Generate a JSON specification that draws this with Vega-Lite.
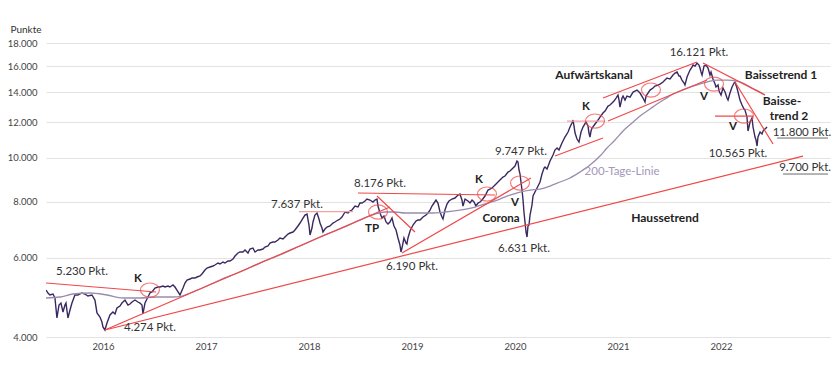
{
"$schema": "https://vega.github.io/schema/vega-lite/v6.json",
"width": 784, "height": 294,
"autosize": {"type": "none"},
"padding": {"left": 46, "top": 43, "right": 10, "bottom": 36},
"background": "white",
"config": {"view": {"stroke": null}, "font": "Lato"},
"datasets": {
"kurs": [
{"t":2015.447,"v":5087},{"t":2015.466,"v":5010},{"t":2015.485,"v":4959},{"t":2015.515,"v":4984},{"t":2015.534,"v":4883},{"t":2015.553,"v":4408},{"t":2015.573,"v":4711},{"t":2015.592,"v":4759},{"t":2015.612,"v":4546},{"t":2015.631,"v":4711},{"t":2015.641,"v":4759},{"t":2015.660,"v":4408},{"t":2015.680,"v":4592},{"t":2015.699,"v":4759},{"t":2015.728,"v":4959},{"t":2015.757,"v":4959},{"t":2015.796,"v":5010},{"t":2015.825,"v":4984},{"t":2015.854,"v":4933},{"t":2015.893,"v":4959},{"t":2015.922,"v":4833},{"t":2015.942,"v":4523},{"t":2015.971,"v":4430},{"t":2015.990,"v":4319},{"t":2016.000,"v":4210},{"t":2016.019,"v":4146},{"t":2016.039,"v":4297},{"t":2016.068,"v":4477},{"t":2016.097,"v":4546},{"t":2016.117,"v":4500},{"t":2016.136,"v":4639},{"t":2016.165,"v":4687},{"t":2016.184,"v":4759},{"t":2016.214,"v":4833},{"t":2016.243,"v":4711},{"t":2016.262,"v":4735},{"t":2016.282,"v":4784},{"t":2016.311,"v":4833},{"t":2016.340,"v":4784},{"t":2016.359,"v":4759},{"t":2016.379,"v":4711},{"t":2016.388,"v":4500},{"t":2016.408,"v":4759},{"t":2016.437,"v":4908},{"t":2016.456,"v":5010},{"t":2016.476,"v":5036},{"t":2016.505,"v":5139},{"t":2016.534,"v":5166},{"t":2016.553,"v":5166},{"t":2016.583,"v":5192},{"t":2016.602,"v":5166},{"t":2016.631,"v":5192},{"t":2016.650,"v":5166},{"t":2016.680,"v":5219},{"t":2016.699,"v":5166},{"t":2016.718,"v":5087},{"t":2016.748,"v":4959},{"t":2016.777,"v":5139},{"t":2016.796,"v":5273},{"t":2016.816,"v":5354},{"t":2016.845,"v":5381},{"t":2016.864,"v":5409},{"t":2016.893,"v":5409},{"t":2016.913,"v":5437},{"t":2016.942,"v":5465},{"t":2016.961,"v":5521},{"t":2016.990,"v":5635},{"t":2017.010,"v":5693},{"t":2017.039,"v":5722},{"t":2017.068,"v":5752},{"t":2017.087,"v":5781},{"t":2017.117,"v":5840},{"t":2017.136,"v":5811},{"t":2017.165,"v":5870},{"t":2017.184,"v":5840},{"t":2017.214,"v":5901},{"t":2017.233,"v":5901},{"t":2017.262,"v":5961},{"t":2017.282,"v":6054},{"t":2017.311,"v":6148},{"t":2017.330,"v":6179},{"t":2017.359,"v":6179},{"t":2017.379,"v":6242},{"t":2017.408,"v":6148},{"t":2017.427,"v":6274},{"t":2017.456,"v":6306},{"t":2017.476,"v":6179},{"t":2017.505,"v":6242},{"t":2017.524,"v":6242},{"t":2017.553,"v":6274},{"t":2017.573,"v":6339},{"t":2017.602,"v":6371},{"t":2017.621,"v":6470},{"t":2017.650,"v":6503},{"t":2017.670,"v":6503},{"t":2017.699,"v":6570},{"t":2017.718,"v":6638},{"t":2017.748,"v":6604},{"t":2017.767,"v":6672},{"t":2017.796,"v":6775},{"t":2017.816,"v":6809},{"t":2017.845,"v":6844},{"t":2017.864,"v":6915},{"t":2017.893,"v":7058},{"t":2017.913,"v":7167},{"t":2017.942,"v":7352},{"t":2017.961,"v":7466},{"t":2017.981,"v":7504},{"t":2018.000,"v":7094},{"t":2018.010,"v":6740},{"t":2018.029,"v":6986},{"t":2018.039,"v":7204},{"t":2018.058,"v":7466},{"t":2018.078,"v":7543},{"t":2018.097,"v":7314},{"t":2018.107,"v":7167},{"t":2018.126,"v":6986},{"t":2018.136,"v":6844},{"t":2018.155,"v":6950},{"t":2018.175,"v":7022},{"t":2018.204,"v":7058},{"t":2018.233,"v":7167},{"t":2018.252,"v":7204},{"t":2018.282,"v":7277},{"t":2018.301,"v":7314},{"t":2018.320,"v":7390},{"t":2018.350,"v":7582},{"t":2018.379,"v":7543},{"t":2018.398,"v":7621},{"t":2018.417,"v":7659},{"t":2018.447,"v":7818},{"t":2018.476,"v":7778},{"t":2018.495,"v":7939},{"t":2018.515,"v":7939},{"t":2018.544,"v":8020},{"t":2018.563,"v":8102},{"t":2018.592,"v":8061},{"t":2018.621,"v":7980},{"t":2018.641,"v":8061},{"t":2018.660,"v":8102},{"t":2018.670,"v":7818},{"t":2018.689,"v":7543},{"t":2018.709,"v":7352},{"t":2018.728,"v":7428},{"t":2018.748,"v":7204},{"t":2018.767,"v":7130},{"t":2018.786,"v":7204},{"t":2018.806,"v":7352},{"t":2018.825,"v":7058},{"t":2018.845,"v":6915},{"t":2018.864,"v":6638},{"t":2018.883,"v":6404},{"t":2018.893,"v":6179},{"t":2018.903,"v":6306},{"t":2018.922,"v":6638},{"t":2018.942,"v":6470},{"t":2018.951,"v":6437},{"t":2018.961,"v":6638},{"t":2018.981,"v":6880},{"t":2019.010,"v":7094},{"t":2019.039,"v":7241},{"t":2019.058,"v":7277},{"t":2019.078,"v":7277},{"t":2019.107,"v":7390},{"t":2019.136,"v":7466},{"t":2019.155,"v":7543},{"t":2019.175,"v":7659},{"t":2019.194,"v":7818},{"t":2019.214,"v":7939},{"t":2019.233,"v":8061},{"t":2019.252,"v":7939},{"t":2019.272,"v":7582},{"t":2019.291,"v":7390},{"t":2019.301,"v":7314},{"t":2019.320,"v":7659},{"t":2019.340,"v":7898},{"t":2019.359,"v":8020},{"t":2019.388,"v":8102},{"t":2019.417,"v":8144},{"t":2019.447,"v":8270},{"t":2019.466,"v":8312},{"t":2019.485,"v":8061},{"t":2019.495,"v":7818},{"t":2019.515,"v":8102},{"t":2019.544,"v":8020},{"t":2019.563,"v":7939},{"t":2019.583,"v":8061},{"t":2019.602,"v":7980},{"t":2019.621,"v":7818},{"t":2019.641,"v":7939},{"t":2019.660,"v":7980},{"t":2019.680,"v":8061},{"t":2019.709,"v":8228},{"t":2019.738,"v":8484},{"t":2019.757,"v":8528},{"t":2019.777,"v":8571},{"t":2019.806,"v":8704},{"t":2019.835,"v":8839},{"t":2019.854,"v":8929},{"t":2019.883,"v":9067},{"t":2019.903,"v":9114},{"t":2019.932,"v":9303},{"t":2019.951,"v":9350},{"t":2019.971,"v":9446},{"t":2020.000,"v":9593},{"t":2020.019,"v":9841},{"t":2020.029,"v":9791},{"t":2020.039,"v":9398},{"t":2020.049,"v":9208},{"t":2020.058,"v":8839},{"t":2020.068,"v":8484},{"t":2020.078,"v":8061},{"t":2020.087,"v":7582},{"t":2020.097,"v":7204},{"t":2020.107,"v":6844},{"t":2020.117,"v":6672},{"t":2020.126,"v":7058},{"t":2020.136,"v":7094},{"t":2020.146,"v":7466},{"t":2020.165,"v":7858},{"t":2020.175,"v":8228},{"t":2020.194,"v":8398},{"t":2020.214,"v":8571},{"t":2020.243,"v":8839},{"t":2020.262,"v":9208},{"t":2020.282,"v":9495},{"t":2020.291,"v":9544},{"t":2020.311,"v":9446},{"t":2020.340,"v":9841},{"t":2020.369,"v":10147},{"t":2020.388,"v":10410},{"t":2020.408,"v":10517},{"t":2020.427,"v":10410},{"t":2020.456,"v":10790},{"t":2020.485,"v":11126},{"t":2020.515,"v":11414},{"t":2020.534,"v":11710},{"t":2020.553,"v":11952},{"t":2020.563,"v":12137},{"t":2020.573,"v":11770},{"t":2020.583,"v":11356},{"t":2020.602,"v":11013},{"t":2020.621,"v":10845},{"t":2020.631,"v":11126},{"t":2020.641,"v":11414},{"t":2020.660,"v":11710},{"t":2020.689,"v":12013},{"t":2020.709,"v":11770},{"t":2020.718,"v":11356},{"t":2020.728,"v":11126},{"t":2020.738,"v":11473},{"t":2020.748,"v":11650},{"t":2020.777,"v":11891},{"t":2020.806,"v":12137},{"t":2020.825,"v":12324},{"t":2020.854,"v":12579},{"t":2020.874,"v":12709},{"t":2020.903,"v":13038},{"t":2020.922,"v":13105},{"t":2020.942,"v":13240},{"t":2020.961,"v":13376},{"t":2020.981,"v":13583},{"t":2021.000,"v":13793},{"t":2021.010,"v":13444},{"t":2021.019,"v":12971},{"t":2021.039,"v":13583},{"t":2021.049,"v":13722},{"t":2021.068,"v":13444},{"t":2021.087,"v":13722},{"t":2021.117,"v":13652},{"t":2021.146,"v":14006},{"t":2021.165,"v":14078},{"t":2021.184,"v":14149},{"t":2021.214,"v":13935},{"t":2021.243,"v":13583},{"t":2021.262,"v":13308},{"t":2021.272,"v":13722},{"t":2021.291,"v":13935},{"t":2021.311,"v":14149},{"t":2021.340,"v":14295},{"t":2021.359,"v":14442},{"t":2021.388,"v":14516},{"t":2021.408,"v":14590},{"t":2021.437,"v":14741},{"t":2021.456,"v":14892},{"t":2021.476,"v":15045},{"t":2021.505,"v":14969},{"t":2021.534,"v":15278},{"t":2021.553,"v":15435},{"t":2021.573,"v":15515},{"t":2021.592,"v":15200},{"t":2021.602,"v":15200},{"t":2021.621,"v":14892},{"t":2021.641,"v":14665},{"t":2021.650,"v":14516},{"t":2021.670,"v":15123},{"t":2021.699,"v":15673},{"t":2021.718,"v":15916},{"t":2021.728,"v":16080},{"t":2021.748,"v":15998},{"t":2021.767,"v":16246},{"t":2021.786,"v":16080},{"t":2021.796,"v":15835},{"t":2021.806,"v":15515},{"t":2021.816,"v":15278},{"t":2021.835,"v":15998},{"t":2021.854,"v":16080},{"t":2021.874,"v":15835},{"t":2021.893,"v":15278},{"t":2021.903,"v":15515},{"t":2021.922,"v":14969},{"t":2021.942,"v":14590},{"t":2021.951,"v":14368},{"t":2021.971,"v":14516},{"t":2021.981,"v":14078},{"t":2022.000,"v":13793},{"t":2022.019,"v":14295},{"t":2022.039,"v":14006},{"t":2022.058,"v":13583},{"t":2022.068,"v":13444},{"t":2022.087,"v":13935},{"t":2022.107,"v":14368},{"t":2022.126,"v":14665},{"t":2022.136,"v":14741},{"t":2022.155,"v":14295},{"t":2022.165,"v":14006},{"t":2022.184,"v":13444},{"t":2022.204,"v":13105},{"t":2022.223,"v":12839},{"t":2022.233,"v":12774},{"t":2022.252,"v":12324},{"t":2022.262,"v":11473},{"t":2022.282,"v":12013},{"t":2022.301,"v":12262},{"t":2022.311,"v":11710},{"t":2022.330,"v":11126},{"t":2022.340,"v":10957},{"t":2022.350,"v":10625},{"t":2022.359,"v":11126},{"t":2022.379,"v":11414},{"t":2022.398,"v":11298},{"t":2022.408,"v":11473},{"t":2022.427,"v":11591},{"t":2022.447,"v":11710}
],
"gd200": [
{"t":2015.447,"v":4883},{"t":2015.583,"v":4908},{"t":2015.709,"v":4984},{"t":2015.874,"v":5010},{"t":2016.039,"v":4959},{"t":2016.194,"v":4883},{"t":2016.359,"v":4883},{"t":2016.524,"v":4908},{"t":2016.680,"v":4908},{"t":2016.767,"v":4933},{"t":2016.845,"v":5010},{"t":2016.942,"v":5113},{"t":2017.136,"v":5354},{"t":2017.330,"v":5578},{"t":2017.524,"v":5840},{"t":2017.718,"v":6085},{"t":2017.913,"v":6371},{"t":2018.107,"v":6672},{"t":2018.301,"v":6950},{"t":2018.495,"v":7277},{"t":2018.641,"v":7504},{"t":2018.738,"v":7582},{"t":2018.835,"v":7582},{"t":2018.932,"v":7543},{"t":2019.029,"v":7543},{"t":2019.175,"v":7543},{"t":2019.320,"v":7582},{"t":2019.466,"v":7659},{"t":2019.612,"v":7778},{"t":2019.738,"v":7939},{"t":2019.854,"v":8102},{"t":2019.951,"v":8270},{"t":2020.049,"v":8398},{"t":2020.146,"v":8484},{"t":2020.243,"v":8528},{"t":2020.340,"v":8660},{"t":2020.437,"v":8839},{"t":2020.534,"v":9021},{"t":2020.631,"v":9303},{"t":2020.728,"v":9642},{"t":2020.825,"v":10095},{"t":2020.893,"v":10517},{"t":2020.971,"v":10957},{"t":2021.049,"v":11473},{"t":2021.136,"v":11952},{"t":2021.214,"v":12388},{"t":2021.311,"v":12839},{"t":2021.379,"v":13172},{"t":2021.456,"v":13513},{"t":2021.534,"v":13864},{"t":2021.621,"v":14149},{"t":2021.699,"v":14368},{"t":2021.796,"v":14590},{"t":2021.864,"v":14741},{"t":2021.961,"v":14892},{"t":2022.058,"v":14892},{"t":2022.155,"v":14816},{"t":2022.233,"v":14590},{"t":2022.301,"v":14295},{"t":2022.359,"v":14078},{"t":2022.427,"v":13793}
],
"trend": [
{"name":"5.230","t":2015.447,"v":5273,"t2":2016.515,"v2":5036},
{"name":"Aufwärtstrend 2016","t":2016.019,"v":4146,"t2":2018.786,"v2":7778},
{"name":"Haussetrend","t":2016.019,"v":4146,"t2":2022.796,"v2":10095},
{"name":"8.176","t":2018.476,"v":8355,"t2":2019.806,"v2":8270},
{"name":"Abwärtstrend 2018","t":2018.660,"v":8228,"t2":2019.029,"v2":6844},
{"name":"Aufwärtstrend 2019","t":2018.903,"v":6148,"t2":2020.155,"v2":9021},
{"name":"Unterstützung 2020","t":2020.388,"v":10095,"t2":2020.854,"v2":11069},
{"name":"Kanal oben","t":2020.854,"v":13583,"t2":2021.767,"v2":16329},
{"name":"Kanal unten","t":2020.903,"v":12075,"t2":2021.864,"v2":14892},
{"name":"Baissetrend 1","t":2021.825,"v":16246,"t2":2022.427,"v2":13793},
{"name":"Baissetrend 2","t":2022.136,"v":14741,"t2":2022.505,"v2":10735},
{"name":"V 2022","t":2021.942,"v":12388,"t2":2022.311,"v2":12388}
],
"marke": [
{"name":"7.637","t":2017.903,"v":7600,"t2":2018.427,"v2":7600},
{"name":"K 2020","t":2020.505,"v":12075,"t2":2020.874,"v2":12075}
],
"kreise": [
{"name":"K","t":2016.456,"v":5087},
{"name":"TP","t":2018.670,"v":7582},
{"name":"K","t":2019.728,"v":8312},
{"name":"V","t":2020.049,"v":8793},
{"name":"K","t":2020.777,"v":12075},
{"name":"Kanal","t":2021.320,"v":14149},
{"name":"V","t":2021.932,"v":14590},
{"name":"V","t":2022.223,"v":12388}
],
"pkt": [
{"label":"5.230 Pkt.","t":2015.796,"v":5578},
{"label":"4.274 Pkt.","t":2016.456,"v":4189},
{"label":"7.637 Pkt.","t":2017.883,"v":7858},
{"label":"8.176 Pkt.","t":2018.689,"v":8749},
{"label":"6.190 Pkt.","t":2019.000,"v":5722},
{"label":"9.747 Pkt.","t":2020.058,"v":10304},
{"label":"6.631 Pkt.","t":2020.087,"v":6274},
{"label":"16.121 Pkt.","t":2021.786,"v":17098},
{"label":"10.565 Pkt.","t":2022.165,"v":10199},
{"label":"11.800 Pkt.","t":2022.786,"v":11356},
{"label":"9.700 Pkt.","t":2022.816,"v":9495}
],
"unterstrich": [
{"label":"11.800 Pkt.","t":2022.544,"t2":2023.039,"v":11069},
{"label":"9.700 Pkt.","t":2022.602,"t2":2023.039,"v":9208}
],
"kurz": [
{"label":"K","t":2016.340,"v":5381},
{"label":"TP","t":2018.612,"v":6950},
{"label":"K","t":2019.650,"v":8929},
{"label":"V","t":2020.000,"v":7939},
{"label":"Corona","t":2019.864,"v":7314},
{"label":"K","t":2020.689,"v":12971},
{"label":"V","t":2021.835,"v":13652},
{"label":"V","t":2022.117,"v":11710}
],
"gross": [
{"label":"Aufwärtskanal","t":2020.767,"v":15278},
{"label":"Haussetrend","t":2021.456,"v":7352},
{"label":"Baissetrend 1","t":2022.583,"v":15278},
{"label":"Baisse-","t":2022.592,"v":13376},
{"label":"trend 2","t":2022.660,"v":12388}
],
"linie200": [
{"label":"200-Tage-Linie","t":2021.039,"v":9303}
]
},
"layer": [
{
"data": {"name": "kurs"},
"mark": {"type": "line", "color": "#3a2860", "strokeWidth": 1.4, "clip": true},
"encoding": {
"x": {"field": "t", "type": "quantitative",
"scale": {"domain": [2015.447, 2023.058], "zero": false, "nice": false},
"axis": {"title": null, "values": [2016,2017,2018,2019,2020,2021,2022], "format": "d", "grid": false, "ticks": false, "domain": false, "labelFontSize": 9.5, "labelColor": "#444", "labelPadding": 4, "labelFont": "Lato"}},
"y": {"field": "v", "type": "quantitative",
"scale": {"type": "log", "domain": [4000, 18000], "nice": false},
"axis": {"title": "Punkte", "titleAngle": 0, "titleAlign": "left", "titleBaseline": "middle", "titleX": -36, "titleY": -14, "titleFontSize": 10, "titleFontWeight": "normal", "titleColor": "#333", "titleFont": "Lato",
"values": [4000,6000,8000,10000,12000,14000,16000,18000],
"labelExpr": "replace(format(datum.value, ','), ',', '.')",
"grid": true, "gridColor": "#e3e3e3", "gridWidth": 1, "ticks": false, "domain": false, "labelFontSize": 9.5, "labelColor": "#444", "labelPadding": 9, "labelFont": "Lato"}}
}
},
{
"data": {"name": "gd200"},
"mark": {"type": "line", "color": "#9a8cae", "strokeWidth": 1.3, "interpolate": "monotone"},
"encoding": {"x": {"field": "t", "type": "quantitative"}, "y": {"field": "v", "type": "quantitative"}}
},
{
"data": {"name": "marke"},
"mark": {"type": "rule", "color": "#f4a1a1", "strokeWidth": 1.3},
"encoding": {"x": {"field": "t", "type": "quantitative"}, "x2": {"field": "t2"}, "y": {"field": "v", "type": "quantitative"}, "y2": {"field": "v2"}}
},
{
"data": {"name": "trend"},
"mark": {"type": "rule", "color": "#f04848", "strokeWidth": 1.2},
"encoding": {"x": {"field": "t", "type": "quantitative"}, "x2": {"field": "t2"}, "y": {"field": "v", "type": "quantitative"}, "y2": {"field": "v2"}}
},
{
"data": {"name": "kreise"},
"mark": {"type": "point", "filled": false, "color": "#f04848", "strokeWidth": 1.2, "size": 361,
"shape": "M -1 0 C -1 -0.409 -0.552 -0.74 0 -0.74 C 0.552 -0.74 1 -0.409 1 0 C 1 0.409 0.552 0.74 0 0.74 C -0.552 0.74 -1 0.409 -1 0 Z"},
"encoding": {"x": {"field": "t", "type": "quantitative"}, "y": {"field": "v", "type": "quantitative"}}
},
{
"data": {"name": "unterstrich"},
"mark": {"type": "rule", "color": "#444", "strokeWidth": 0.8},
"encoding": {"x": {"field": "t", "type": "quantitative"}, "x2": {"field": "t2"}, "y": {"field": "v", "type": "quantitative"}}
},
{
"data": {"name": "pkt"},
"mark": {"type": "text", "font": "Lato", "fontSize": 11.5, "color": "#333", "align": "center", "baseline": "middle"},
"encoding": {"x": {"field": "t", "type": "quantitative"}, "y": {"field": "v", "type": "quantitative"}, "text": {"field": "label"}}
},
{
"data": {"name": "kurz"},
"mark": {"type": "text", "font": "Lato", "fontSize": 11.5, "fontWeight": "bold", "color": "#222", "align": "center", "baseline": "middle"},
"encoding": {"x": {"field": "t", "type": "quantitative"}, "y": {"field": "v", "type": "quantitative"}, "text": {"field": "label"}}
},
{
"data": {"name": "gross"},
"mark": {"type": "text", "font": "Lato", "fontSize": 12, "fontWeight": "bold", "color": "#222", "align": "center", "baseline": "middle"},
"encoding": {"x": {"field": "t", "type": "quantitative"}, "y": {"field": "v", "type": "quantitative"}, "text": {"field": "label"}}
},
{
"data": {"name": "linie200"},
"mark": {"type": "text", "font": "Lato", "fontSize": 11.5, "color": "#a596bb", "align": "center", "baseline": "middle"},
"encoding": {"x": {"field": "t", "type": "quantitative"}, "y": {"field": "v", "type": "quantitative"}, "text": {"field": "label"}}
}
]
}
